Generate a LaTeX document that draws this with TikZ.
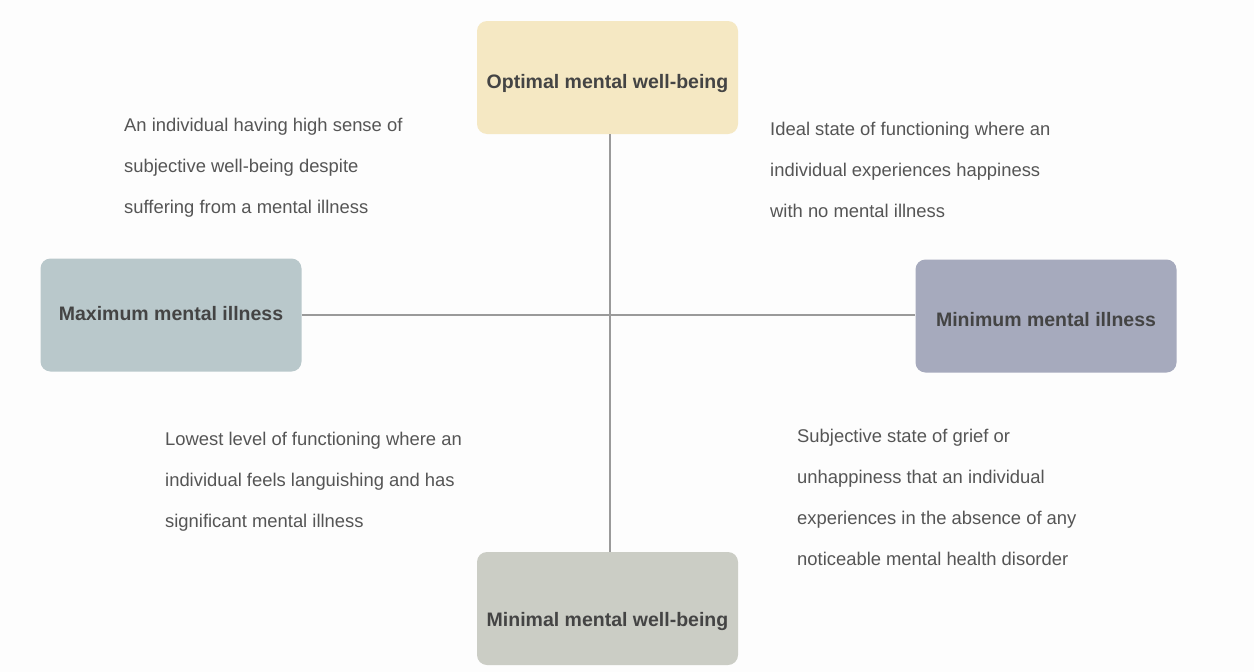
\documentclass[tikz,border=0pt]{standalone}
\usepackage{fontspec}
\setmainfont{Liberation Sans}
\definecolor{bgc}{HTML}{FDFDFD}
\definecolor{topc}{HTML}{F5E8C3}
\definecolor{leftc}{HTML}{B9C8CB}
\definecolor{rightc}{HTML}{A6AABD}
\definecolor{botc}{HTML}{CBCDC5}
\definecolor{titlec}{HTML}{444444}
\definecolor{bodyc}{HTML}{555555}
\definecolor{linec}{HTML}{9A9A9A}
\tikzset{
  box/.style={rectangle, rounded corners=10pt, minimum width=261pt, minimum height=113pt,
    inner sep=0pt, text depth=0pt, text=titlec, font=\fontsize{19.5}{22}\selectfont\bfseries},
  desc/.style={anchor=west, align=left, inner sep=0pt, text=bodyc,
    font=\fontsize{18.4}{41}\selectfont},
  axis/.style={draw=linec, line width=1.2pt}
}
\begin{document}
\begin{tikzpicture}[x=1pt,y=-1pt]
\fill[bgc] (0,0) rectangle (1254,672);
\useasboundingbox (0,0) rectangle (1254,672);
\node[box, fill=topc, text height=22pt] (top) at (607.5,77.5) {Optimal mental well-being};
\node[box, fill=leftc, text height=11pt] (left) at (171,315) {Maximum mental illness};
\node[box, fill=rightc, text height=21pt] (right) at (1046,316) {Minimum mental illness};
\node[box, fill=botc, text height=36pt] (bot) at (607.5,608.5) {Minimal mental well-being};
\draw[axis] ([xshift=2.5pt]top.south) -- ([xshift=2.5pt]bot.north);
\draw[axis] (left.east) -- (left.east -| right.west);
\node[desc] (tl) at (124,168) {An individual having high sense of\\subjective well-being despite\\suffering from a mental illness};
\node[desc] (tr) at (770,170) {Ideal state of functioning where an\\individual experiences happiness\\with no mental illness};
\node[desc] (bl) at (165,482) {Lowest level of functioning where an\\individual feels languishing and has\\significant mental illness};
\node[desc] (br) at (797,497) {Subjective state of grief or\\unhappiness that an individual\\experiences in the absence of any\\noticeable mental health disorder};
\end{tikzpicture}
\end{document}
